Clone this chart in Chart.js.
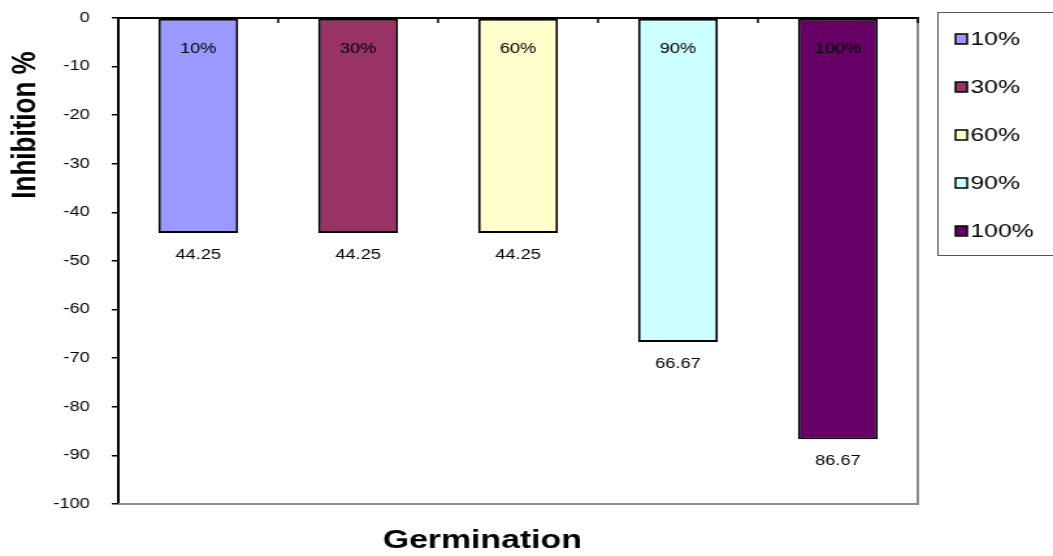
<!DOCTYPE html>
<html>
<head>
<meta charset="utf-8">
<script src="https://cdn.jsdelivr.net/npm/chart.js@4.4.0/dist/chart.umd.min.js"></script>
<style>
  html, body { margin: 0; padding: 0; background: #fff; overflow: hidden; }
  /* the reference is stretched sideways, so draw narrow and widen */
  #wrap { width: 810px; height: 556px; transform: scaleX(1.3); transform-origin: 0 0; }
</style>
</head>
<body>
<div id="wrap"><canvas id="chart" width="810" height="556"></canvas></div>
<script>
const categories = ['10%', '30%', '60%', '90%', '100%'];
const inhibition = [-44.25, -44.25, -44.25, -66.67, -86.67];
const barColors = ['#9999FF', '#993366', '#FFFFCC', '#CCFFFF', '#660066'];
const yTicks = [0, -10, -20, -30, -40, -50, -60, -70, -80, -90, -100];
const xTitle = 'Germination';
const yTitle = 'Inhibition %';

const FONT = 'Arial, "Liberation Sans", sans-serif';

// frame, bar labels, titles and the boxed legend
const extras = {
  id: 'extras',
  beforeDatasetsDraw(chart) {
    const { ctx, chartArea: a } = chart;
    ctx.save();
    ctx.strokeStyle = '#8c8c8c';
    ctx.lineWidth = 2;
    ctx.beginPath();
    ctx.moveTo(a.right, a.top);
    ctx.lineTo(a.right, a.bottom);
    ctx.lineTo(a.left, a.bottom);
    ctx.stroke();
    // small category ticks under the top axis
    ctx.strokeStyle = '#000';
    ctx.lineWidth = 1.5;
    const xs = chart.scales.x;
    for (let i = 0; i <= categories.length; i++) {
      const x = xs.getPixelForValue(i - 0.5);
      ctx.beginPath();
      ctx.moveTo(x, a.top);
      ctx.lineTo(x, a.top + 5);
      ctx.stroke();
    }
    ctx.restore();
  },
  afterDatasetsDraw(chart) {
    const { ctx, chartArea: a } = chart;
    const meta = chart.getDatasetMeta(0);
    ctx.save();
    ctx.fillStyle = '#000';
    ctx.font = '14px ' + FONT;
    ctx.textAlign = 'center';
    ctx.textBaseline = 'middle';
    meta.data.forEach((bar, i) => {
      ctx.fillText(categories[i], bar.x, a.top + 31);
      ctx.fillText(Math.abs(inhibition[i]).toFixed(2), bar.x, bar.y + 22);
    });
    ctx.restore();
  },
  afterDraw(chart) {
    const { ctx } = chart;
    ctx.save();
    ctx.fillStyle = '#000';
    ctx.textAlign = 'center';
    ctx.textBaseline = 'middle';
    ctx.font = 'bold 26px ' + FONT;
    ctx.fillText(xTitle, 371, 541);
    ctx.translate(20, 125);
    ctx.rotate(-Math.PI / 2);
    ctx.font = 'bold 26px ' + FONT;
    ctx.fillText(yTitle, 0, 0);
    ctx.restore();

    // legend
    ctx.save();
    ctx.strokeStyle = '#555';
    ctx.lineWidth = 1;
    ctx.strokeRect(721.5, 12.5, 130, 243);
    ctx.font = '19px ' + FONT;
    ctx.textAlign = 'left';
    ctx.textBaseline = 'middle';
    categories.forEach((c, i) => {
      const cy = 39 + i * 48;
      ctx.fillStyle = barColors[i];
      ctx.fillRect(735, cy - 5, 9, 10);
      ctx.strokeStyle = '#000';
      ctx.lineWidth = 1.5;
      ctx.strokeRect(735, cy - 5, 9, 10);
      ctx.fillStyle = '#000';
      ctx.fillText(c, 746.5, cy + 1);
    });
    ctx.restore();
  }
};

new Chart(document.getElementById('chart'), {
  type: 'bar',
  data: {
    labels: categories,
    datasets: [{
      label: 'Inhibition',
      data: inhibition,
      backgroundColor: barColors,
      borderColor: '#000',
      borderWidth: 2,
      borderSkipped: false,
      categoryPercentage: 1,
      barPercentage: 0.5
    }]
  },
  options: {
    responsive: false,
    animation: false,
    devicePixelRatio: 1,
    layout: { padding: { top: 0, right: 104, bottom: 52, left: 0 } },
    plugins: {
      legend: { display: false },
      tooltip: { enabled: false }
    },
    scales: {
      x: {
        position: 'top',
        ticks: { display: false },
        grid: { display: false },
        border: { display: true, color: '#000', width: 2 },
        afterFit: s => { s.height = 18; }
      },
      y: {
        min: -100,
        max: 0,
        afterBuildTicks: s => { s.ticks = yTicks.map(v => ({ value: v })); },
        ticks: {
          color: '#000',
          font: { family: FONT, size: 14 },
          padding: 17,
          callback: v => String(v)
        },
        grid: { drawOnChartArea: false, tickLength: 5, color: '#000', lineWidth: 1.5 },
        border: { display: true, color: '#000', width: 2 },
        afterFit: s => { s.width = 91; s.paddingTop = 0; s.paddingBottom = 0; }
      }
    }
  },
  plugins: [extras]
});
</script>
</body>
</html>
